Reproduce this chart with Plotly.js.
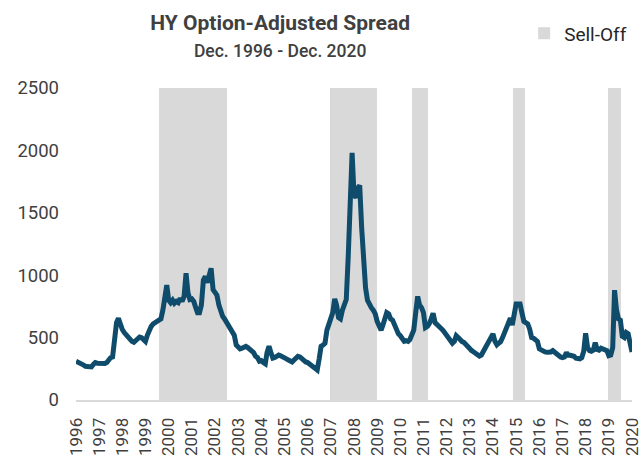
<!DOCTYPE html>
<html>
<head>
<meta charset="utf-8">
<script src="https://cdn.plot.ly/plotly-3.0.1.min.js"></script>
<style>
  html, body { margin: 0; padding: 0; background: #ffffff; }
  #chart { width: 644px; height: 457px; }
</style>
</head>
<body>
<div id="chart"></div>
<script>
// First month of the monthly series
const firstYear = 1996;
const firstMonth = 12;

// HY option-adjusted spread (bp), month-end, Dec 1996 .. Dec 2020
const oas = [
  310,                                                            // 1996 Dec
  305, 290, 285, 280, 270, 268, 262, 265, 285, 300, 295, 292,     // 1997
  290, 288, 292, 300, 325, 340, 345, 520, 620, 655, 590, 565,     // 1998
  540, 520, 500, 485, 470, 462, 475, 495, 505, 500, 480, 470,     // 1999
  520, 565, 590, 610, 625, 630, 640, 650, 720, 850, 920, 800,     // 2000
  780, 800, 775, 790, 780, 815, 790, 830, 1015, 860, 805, 810,    // 2001
  790, 740, 700, 700, 760, 960, 990, 940, 1000, 1055, 885, 860,   // 2002
  840, 760, 700, 670, 650, 620, 600, 580, 550, 520, 440, 420,     // 2003
  410, 415, 425, 430, 420, 410, 400, 380, 350, 340, 310, 315,     // 2004
  300, 290, 380, 430, 380, 335, 340, 355, 360, 355, 350, 345,     // 2005
  330, 320, 310, 305, 320, 340, 350, 345, 330, 320, 305, 300,     // 2006
  290, 275, 268, 255, 240, 330, 430, 440, 455, 560, 620, 640,     // 2007
  700, 810, 760, 660, 650, 720, 780, 805, 1150, 1600, 1980, 1650, // 2008
  1620, 1700, 1720, 1380, 1100, 900, 800, 760, 740, 720, 690, 630,// 2009
  580, 560, 600, 640, 700, 690, 650, 640, 600, 560, 530, 515,     // 2010
  490, 470, 475, 470, 485, 540, 560, 700, 830, 760, 740, 700,     // 2011
  580, 590, 610, 650, 695, 620, 600, 590, 575, 560, 540, 520,     // 2012
  495, 480, 455, 470, 515, 500, 480, 468, 460, 440, 420, 410,     // 2013
  395, 385, 375, 360, 352, 360, 388, 410, 455, 480, 510, 530,     // 2014
  470, 442, 455, 468, 500, 540, 600, 620, 656, 600, 690, 770,     // 2015
  770, 770, 700, 630, 620, 610, 570, 500, 495, 485, 470, 410,     // 2016
  400, 390, 385, 383, 380, 385, 395, 380, 365, 350, 345, 340,     // 2017
  345, 380, 360, 358, 355, 350, 335, 330, 330, 340, 390, 535,     // 2018
  420, 395, 390, 400, 460, 405, 400, 415, 410, 410, 395, 355,     // 2019
  360, 420, 880, 720, 650, 640, 510, 500, 540, 530, 430, 385      // 2020
];

// Sell-off periods
const sellOffStart = ['2000-07-01', '2007-11-15', '2011-06-10', '2015-10-20', '2019-11-25'];
const sellOffEnd   = ['2003-06-01', '2009-12-01', '2012-02-05', '2016-04-18', '2020-06-18'];

// Axis labels
const yearLabels = ['1996','1997','1998','1999','2000','2001','2002','2003','2004','2005',
  '2006','2007','2008','2009','2010','2011','2012','2013','2014','2015','2016','2017',
  '2018','2019','2020'];
const yTicks = [0, 500, 1000, 1500, 2000, 2500];

// Build month dates for the series
const monthDates = oas.map((v, i) => {
  const m0 = (firstMonth - 1) + i;
  const y = firstYear + Math.floor(m0 / 12);
  const m = (m0 % 12) + 1;
  return y + '-' + String(m).padStart(2, '0') + '-01';
});

const yMax = yTicks[yTicks.length - 1];

const sellOff = {
  type: 'bar',
  name: 'Sell-Off',
  x: sellOffStart,
  y: sellOffStart.map(() => yMax),
  width: sellOffStart.map((s, i) => Date.parse(sellOffEnd[i]) - Date.parse(s)),
  offset: 0,
  marker: { color: '#d9d9d9', line: { width: 0 } },
  hoverinfo: 'skip',
  showlegend: true
};

const spread = {
  type: 'scatter',
  mode: 'lines',
  name: 'HY OAS',
  x: monthDates,
  y: oas,
  line: { color: '#0f4b6b', width: 5 },
  showlegend: false
};

const font = 'Roboto, "Liberation Sans", Arial, sans-serif';

const layout = {
  width: 644,
  height: 457,
  paper_bgcolor: '#ffffff',
  plot_bgcolor: '#ffffff',
  margin: { l: 76, r: 12, t: 88, b: 57, pad: 0 },
  font: { family: font, color: '#404040' },
  title: {
    text: '<b>HY Option-Adjusted Spread</b><br><span style="font-size:17.5px;font-weight:500">Dec. 1996 - Dec. 2020</span>',
    font: { family: font, size: 21, color: '#404040' },
    x: 0.435, xanchor: 'center', xref: 'container',
    y: 0.935, yanchor: 'top', yref: 'container'
  },
  xaxis: {
    type: 'date',
    range: ['1996-12-01', '2020-12-01'],
    tickmode: 'array',
    tickvals: yearLabels.map(y => y + '-12-01'),
    ticktext: yearLabels,
    tickangle: -90,
    tickfont: { family: font, size: 17, color: '#404040' },
    ticks: '',
    ticklabelstandoff: 9,
    showline: true,
    linecolor: '#d9d9d9',
    linewidth: 2,
    showgrid: false,
    zeroline: false,
    fixedrange: true
  },
  yaxis: {
    range: [0, yMax],
    tickmode: 'array',
    tickvals: yTicks,
    ticktext: yTicks.map(String),
    tickfont: { family: font, size: 18.5, color: '#404040' },
    ticks: '',
    ticklabelstandoff: 16,
    showline: false,
    showgrid: false,
    zeroline: false,
    fixedrange: true
  },
  legend: {
    x: 0.806, xanchor: 'left',
    y: 1.175, yanchor: 'middle',
    font: { family: font, size: 19, color: '#262626' },
    bgcolor: 'rgba(0,0,0,0)'
  },
  showlegend: true,
  bargap: 0
};

Plotly.newPlot('chart', [sellOff, spread], layout, { displayModeBar: false, staticPlot: true });
</script>
</body>
</html>
